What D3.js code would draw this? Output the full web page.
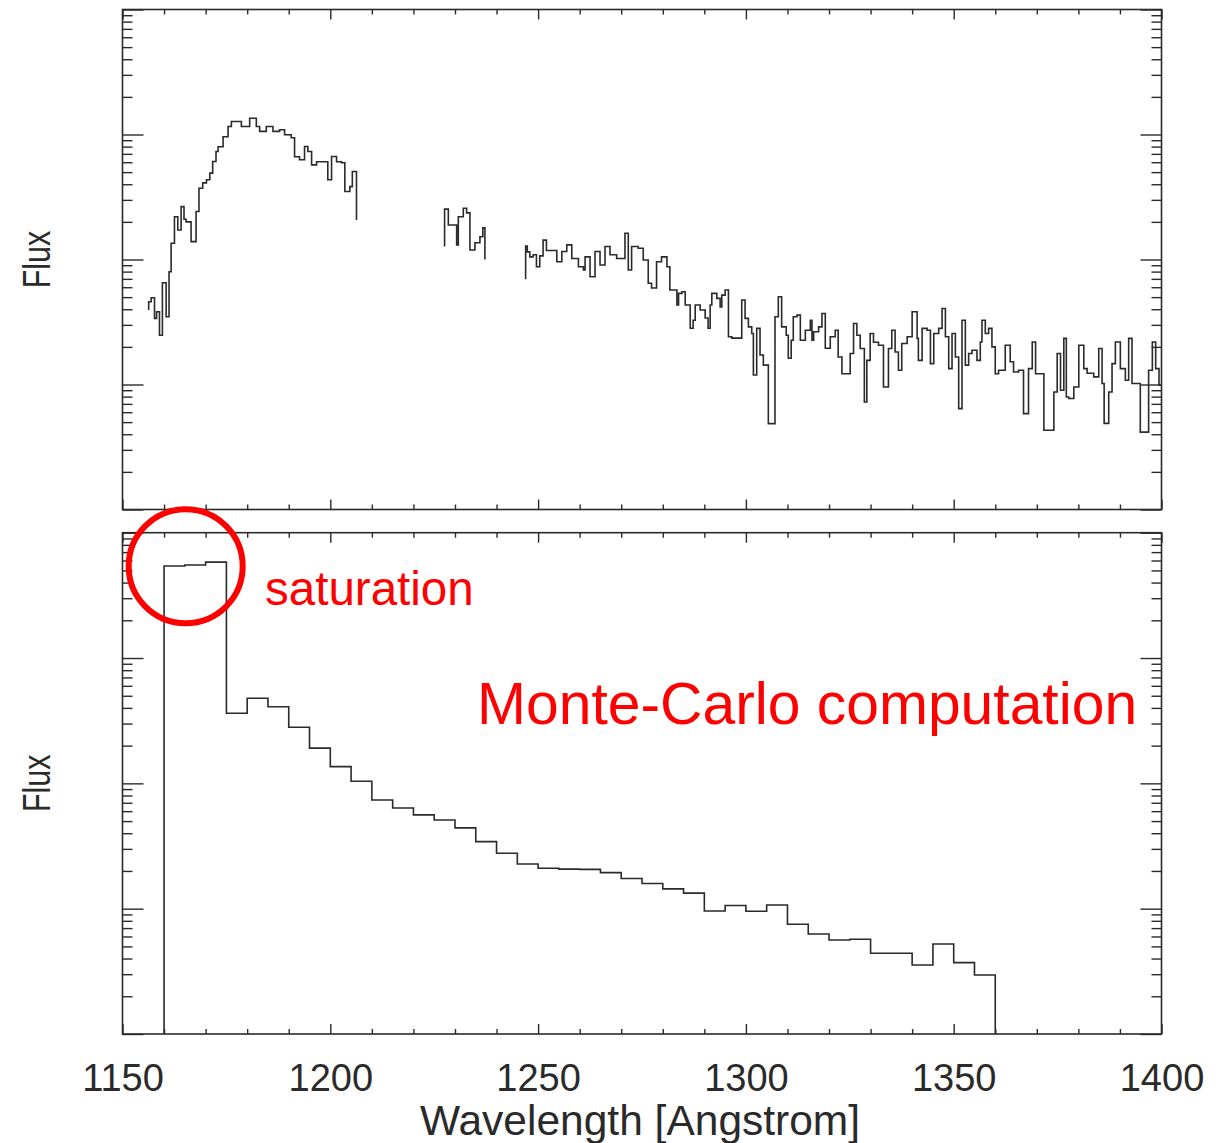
<!DOCTYPE html>
<html><head><meta charset="utf-8">
<script src="https://cdn.jsdelivr.net/npm/d3@7"></script>
<style>body{margin:0;background:#fff}svg{display:block}</style>
</head><body>
<svg id="c" width="1220" height="1143"></svg>
<script>
// ---------------- DATA ----------------
// Observed spectrum (top panel): [wavelength (Angstrom), flux], step-after segments
const obsSegment1 = [[1156.3,3.94],[1156.3,4.59],[1156.9,4.94],[1157.7,3.38],[1158.2,3.82],[1158.9,2.48],[1159.6,6.52],[1160.5,3.48],[1161.2,7.98],[1161.7,13.5],[1162.5,22.0],[1163.3,17.2],[1164.1,26.5],[1164.8,21.0],[1165.3,20.0],[1166.5,13.9],[1167.7,24.2],[1168.4,37.2],[1169.3,41.0],[1170.2,43.4],[1171.0,49.1],[1171.7,60.8],[1172.5,73.1],[1173.0,79.8],[1174.2,95.9],[1175.4,116],[1176.2,127],[1178.6,116],[1180.6,135],[1182.2,116],[1183.0,106],[1184.6,116],[1186.2,106],[1187.8,109],[1189.0,99.5],[1190.6,94.2],[1191.4,66.3],[1192.6,62.8],[1193.8,80.2],[1194.6,73.1],[1195.5,57.2],[1196.7,60.5],[1199.4,43.4],[1200.3,66.7],[1201.5,60.5],[1202.7,59.4],[1203.5,35.0],[1204.7,38.3],[1205.3,50.6],[1206.3,20.7]];
const obsSegment2 = [[1227.5,12.7],[1227.5,25.3],[1228.4,18.9],[1230.4,13.1],[1230.8,22.0],[1232.0,25.7],[1232.8,23.6],[1233.6,11.9],[1234.8,13.6],[1236.0,15.2],[1236.7,17.9],[1237.2,10.0]];
const obsSegment3 = [[1247.0,6.94],[1247.0,12.8],[1247.4,11.5],[1248.0,10.5],[1248.8,10.9],[1249.6,8.75],[1250.4,10.7],[1251.2,14.3],[1252.0,11.8],[1254.5,9.6],[1255.7,11.6],[1256.9,13.1],[1258.1,10.2],[1259.7,8.75],[1260.9,8.24],[1261.3,10.5],[1262.5,7.28],[1263.7,11.6],[1264.9,9.03],[1266.1,12.7],[1267.3,10.9],[1268.9,10.2],[1270.9,16.2],[1271.7,8.24],[1272.5,12.7],[1274.1,12.3],[1275.3,9.91],[1276.5,6.45],[1277.3,5.91],[1278.5,9.6],[1279.7,10.5],[1281.0,8.75],[1281.7,5.70],[1283.4,4.32],[1283.8,5.36],[1284.6,5.52],[1285.4,4.32],[1286.6,2.82],[1287.3,3.27],[1287.8,4.32],[1289.0,3.94],[1290.2,3.40],[1290.9,2.82],[1291.4,4.32],[1291.8,5.36],[1293.0,4.89],[1293.8,4.18],[1294.2,5.19],[1295.0,5.70],[1295.8,2.41],[1296.6,2.35],[1299.0,4.74],[1299.8,3.38],[1300.6,2.89],[1301.4,2.56],[1301.8,1.19],[1302.6,2.81],[1303.4,1.72],[1304.2,1.43],[1305.4,0.486],[1307.0,3.48],[1307.8,5.03],[1308.6,2.89],[1309.7,2.48],[1310.2,1.62],[1310.9,2.26],[1311.4,3.48],[1312.3,3.59],[1313.1,2.26],[1314.3,2.72],[1315.5,3.27],[1315.9,2.26],[1316.3,2.64],[1317.5,2.89],[1318.3,3.70],[1319.1,1.95],[1320.3,2.41],[1321.5,2.72],[1322.2,1.66],[1323.1,1.22],[1325.1,1.77],[1325.9,3.08],[1326.7,2.48],[1327.5,1.94],[1328.5,0.725],[1329.1,1.56],[1329.9,2.56],[1330.7,2.18],[1331.9,2.06],[1333.1,0.956],[1334.3,1.94],[1335.1,2.72],[1335.9,1.82],[1336.7,1.30],[1337.5,2.13],[1338.8,2.41],[1340.0,3.82],[1341.2,2.34],[1341.5,1.56],[1342.4,2.81],[1343.6,2.72],[1344.4,1.47],[1345.2,2.56],[1346.4,2.81],[1347.2,4.06],[1348.0,2.41],[1348.8,1.34],[1349.6,2.56],[1350.4,1.66],[1351.2,0.641],[1352.0,3.27],[1352.8,1.43],[1353.6,1.77],[1354.4,1.88],[1355.6,1.56],[1356.4,2.19],[1356.8,3.27],[1357.6,2.56],[1358.4,2.81],[1359.2,2.00],[1360.0,1.22],[1360.8,1.30],[1362.4,2.06],[1363.6,1.52],[1364.4,1.26],[1365.6,1.30],[1366.8,0.585],[1368.0,1.34],[1368.9,2.19],[1369.7,1.22],[1371.7,0.430],[1374.1,0.872],[1374.9,1.77],[1375.7,0.899],[1376.5,2.34],[1377.1,0.795],[1377.7,0.772],[1378.9,0.956],[1380.1,2.06],[1381.3,1.34],[1382.1,1.23],[1383.7,1.15],[1384.9,1.94],[1385.7,1.02],[1386.2,0.489],[1387.3,0.872],[1388.1,1.47],[1388.9,2.19],[1390.1,1.34],[1391.3,1.08],[1392.1,2.34],[1392.9,1.02],[1394.9,0.416],[1396.9,1.30],[1397.8,2.19],[1398.6,1.34],[1399.4,0.986],[1400,0.986]];

// Monte-Carlo computation (bottom panel): 5 Angstrom bins
const mcBinStart = [1160,1165,1170,1175,1180,1185,1190,1195,1200,1205,1210,1215,1220,1225,1230,1235,1240,1245,1250,1255,1260,1265,1270,1275,1280,1285,1290,1295,1300,1305,1310,1315,1320,1325,1330,1335,1340,1345,1350,1355];
const mcFlux = [543,553,582,36.3,47.8,40.9,28.0,19.1,13.6,10.4,7.37,6.36,5.60,5.10,4.41,3.43,2.77,2.27,2.10,2.07,2.06,1.94,1.74,1.59,1.44,1.33,0.959,1.06,0.953,1.07,0.751,0.628,0.563,0.570,0.441,0.441,0.355,0.523,0.371,0.296];
const mcBinWidth = 5;

// Axes
const waveDomain = [1150, 1400];
const fluxDomain = [0.1, 1000];
const xMajorTicks = [1150, 1200, 1250, 1300, 1350, 1400];
const xTickLabels = ["1150", "1200", "1250", "1300", "1350", "1400"];
const xMinorTicks = [1160,1170,1180,1190,1210,1220,1230,1240,1260,1270,1280,1290,1310,1320,1330,1340,1360,1370,1380,1390];
const yDecades = [0.1, 1, 10, 100, 1000];
const yMinorMult = [2,3,4,5,6,7,8,9];
const xTitle = "Wavelength [Angstrom]";
const yTitle = "Flux";
const annSaturation = "saturation";
const annMC = "Monte-Carlo computation";

// ---------------- DRAW ----------------
const svg = d3.select("#c");
const INK = "#2a2a2a";
const FONT = "Liberation Sans, Arial, sans-serif";
const xL = 122.5, xR = 1161.5;
const x = d3.scaleLinear().domain(waveDomain).range([xL, xR]);
const panels = [
  {top: 9.5, bottom: 509.5},
  {top: 532.7, bottom: 1034}
];
const yMinor = [];
yDecades.slice(0, -1).forEach(d => yMinorMult.forEach(m => yMinor.push(d * m)));

function addAxis(g, axis, tr) {
  const a = g.append("g").attr("transform", tr).call(axis);
  a.select(".domain").remove();
  a.selectAll(".tick line").attr("stroke", INK).attr("stroke-width", 1.4);
  return a;
}

panels.forEach((p, i) => {
  p.y = d3.scaleLog().domain(fluxDomain).range([p.bottom, p.top]);
  const g = svg.append("g");
  p.g = g;
  addAxis(g, d3.axisBottom(x).tickValues(xMinorTicks).tickSizeInner(-5).tickSizeOuter(0).tickFormat(""), `translate(0,${p.bottom})`);
  addAxis(g, d3.axisTop(x).tickValues(xMinorTicks).tickSizeInner(-5).tickSizeOuter(0).tickFormat(""), `translate(0,${p.top})`);
  const xb = addAxis(g, d3.axisBottom(x).tickValues(xMajorTicks).tickSizeInner(-10).tickSizeOuter(0).tickPadding(30)
      .tickFormat((d, k) => i === 1 ? xTickLabels[k] : ""), `translate(0,${p.bottom})`);
  xb.selectAll("text").attr("font-family", FONT).attr("font-size", 38).attr("fill", INK);
  addAxis(g, d3.axisTop(x).tickValues(xMajorTicks).tickSizeInner(-10).tickSizeOuter(0).tickFormat(""), `translate(0,${p.top})`);
  addAxis(g, d3.axisLeft(p.y).tickValues(yMinor).tickSizeInner(-10).tickSizeOuter(0).tickFormat(""), `translate(${xL},0)`);
  addAxis(g, d3.axisRight(p.y).tickValues(yMinor).tickSizeInner(-10).tickSizeOuter(0).tickFormat(""), `translate(${xR},0)`);
  addAxis(g, d3.axisLeft(p.y).tickValues(yDecades).tickSizeInner(-21).tickSizeOuter(0).tickFormat(""), `translate(${xL},0)`);
  addAxis(g, d3.axisRight(p.y).tickValues(yDecades).tickSizeInner(-21).tickSizeOuter(0).tickFormat(""), `translate(${xR},0)`);
  g.append("rect").attr("x", xL).attr("y", p.top).attr("width", xR - xL).attr("height", p.bottom - p.top)
    .attr("fill", "none").attr("stroke", INK).attr("stroke-width", 1.6);
  const cy = (p.top + p.bottom) / 2;
  g.append("text").attr("transform", `translate(50,${cy}) rotate(-90) scale(0.78,1)`)
    .attr("text-anchor", "middle").attr("font-family", FONT)
    .attr("font-size", 39).attr("fill", INK).text(yTitle);
});

// top spectrum
const topP = panels[0];
const lineTop = d3.line().x(d => x(d[0])).y(d => topP.y(d[1])).curve(d3.curveStepAfter);
[obsSegment1, obsSegment2, obsSegment3].forEach(seg => {
  topP.g.append("path").attr("d", lineTop(seg)).attr("fill", "none")
    .attr("stroke", INK).attr("stroke-width", 1.6);
});

// bottom histogram
const botP = panels[1];
const histPts = [[mcBinStart[0], fluxDomain[0]]];
mcBinStart.forEach((b, k) => histPts.push([b, mcFlux[k]]));
const lastEnd = mcBinStart[mcBinStart.length - 1] + mcBinWidth;
histPts.push([lastEnd, mcFlux[mcFlux.length - 1]]);
histPts.push([lastEnd, fluxDomain[0]]);
const lineBot = d3.line().x(d => x(d[0])).y(d => botP.y(d[1])).curve(d3.curveStepAfter);
botP.g.append("path").attr("d", lineBot(histPts)).attr("fill", "none")
  .attr("stroke", INK).attr("stroke-width", 1.6);

// x title
svg.append("text").attr("x", (xL + xR) / 2 - 2).attr("y", 1135).attr("text-anchor", "middle")
  .attr("font-family", FONT).attr("font-size", 42.5).attr("fill", INK).text(xTitle);

// annotations
const RED = "#ff0000";
svg.append("circle").attr("cx", x(1165.2)).attr("cy", botP.y(540)).attr("r", 57)
  .attr("fill", "none").attr("stroke", RED).attr("stroke-width", 6);
svg.append("text").attr("x", x(1184.3)).attr("y", 605).attr("font-family", FONT)
  .attr("font-size", 47.5).attr("fill", RED).text(annSaturation);
svg.append("text").attr("x", 477).attr("y", 724).attr("font-family", FONT)
  .attr("font-size", 58.8).attr("fill", RED).text(annMC);
</script>
</body></html>
